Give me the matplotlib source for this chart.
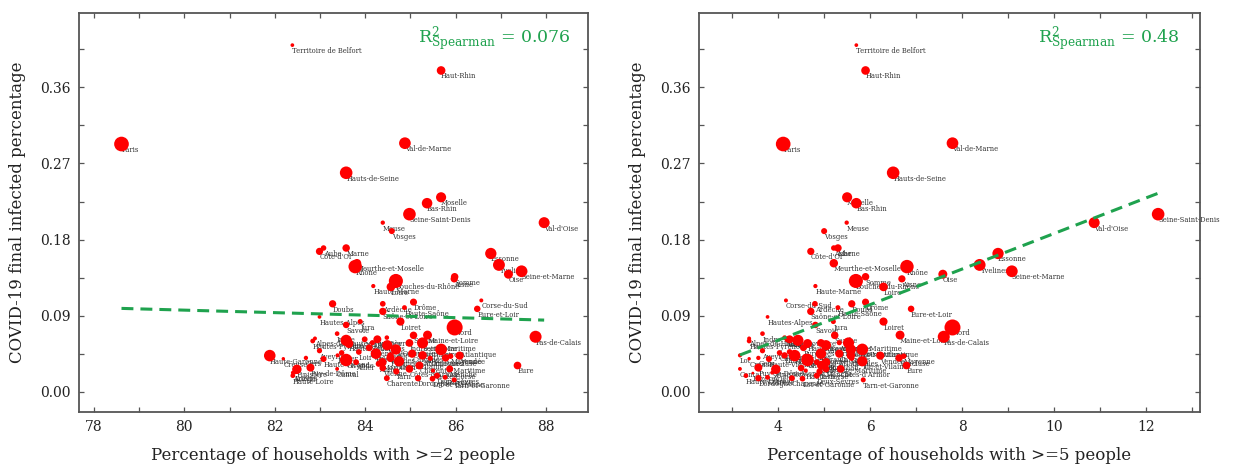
import matplotlib
matplotlib.use('Agg')
import matplotlib.pyplot as plt
import numpy as np
from matplotlib.ticker import MultipleLocator, FormatStrFormatter

# ---------------- data ----------------
departments = [
    "Ain", "Aisne", "Allier", "Alpes-de-Haute-Provence", "Hautes-Alpes", "Alpes-Maritimes",
    "Ardèche", "Ardennes", "Ariège", "Aube", "Aude", "Aveyron", "Bouches-du-Rhône", "Calvados",
    "Cantal", "Charente", "Charente-Maritime", "Cher", "Corrèze", "Corse-du-Sud", "Haute-Corse",
    "Côte-d'Or", "Côtes-d'Armor", "Creuse", "Dordogne", "Doubs", "Drôme", "Eure", "Eure-et-Loir",
    "Finistère", "Gard", "Gers", "Gironde", "Haute-Garonne", "Hérault", "Ille-et-Vilaine", "Indre",
    "Indre-et-Loire", "Isère", "Jura", "Landes", "Loir-et-Cher", "Loire", "Haute-Loire",
    "Loire-Atlantique", "Loiret", "Lot", "Lot-et-Garonne", "Lozère", "Maine-et-Loire", "Manche",
    "Marne", "Haute-Marne", "Mayenne", "Meurthe-et-Moselle", "Meuse", "Morbihan", "Moselle",
    "Nièvre", "Nord", "Oise", "Orne", "Pas-de-Calais", "Puy-de-Dôme", "Pyrénées-Atlantiques",
    "Hautes-Pyrénées", "Pyrénées-Orientales", "Bas-Rhin", "Haut-Rhin", "Rhône", "Haute-Saône",
    "Saône-et-Loire", "Sarthe", "Savoie", "Haute-Savoie", "Paris", "Seine-Maritime",
    "Seine-et-Marne", "Yvelines", "Deux-Sèvres", "Somme", "Tarn", "Tarn-et-Garonne", "Var",
    "Vaucluse", "Vendée", "Vienne", "Haute-Vienne", "Vosges", "Yonne", "Territoire de Belfort",
    "Essonne", "Hauts-de-Seine", "Seine-Saint-Denis", "Val-de-Marne", "Val-d'Oise",
]

pct_2plus = [
    84.27, 85.97, 83.80, 82.89, 82.99, 84.68,
    84.39, 84.16, 82.40, 83.08, 84.30, 82.99, 84.68, 85.04,
    83.38, 84.48, 85.20, 83.48, 85.77, 86.57, 85.50,
    82.99, 84.98, 82.19, 85.17, 83.28, 85.07, 87.37, 86.48,
    82.49, 85.27, 82.69, 83.58, 81.89, 84.24, 84.75, 83.38,
    84.98, 83.58, 83.89, 84.56, 83.86, 84.57, 82.40,
    85.68, 84.78, 83.39, 85.49, 82.44, 85.38, 85.87,
    83.58, 84.18, 85.89, 83.82, 84.39, 84.38, 85.68,
    84.48, 85.98, 87.17, 85.44, 87.77, 82.79, 84.56,
    82.84, 84.09, 85.37, 85.68, 83.78, 84.87,
    84.39, 85.07, 83.58, 83.64, 78.61, 85.27,
    87.46, 86.96, 85.59, 85.98, 84.69, 85.97, 84.49,
    85.78, 86.09, 84.39, 83.08, 84.59, 83.99, 82.39,
    86.78, 83.58, 84.98, 84.88, 87.96,
]

pct_5plus = [
    4.25, 6.69, 4.84, 3.37, 3.77, 5.58,
    4.80, 5.33, 3.87, 5.21, 4.93, 3.66, 5.69, 5.33,
    3.17, 4.30, 4.93, 4.03, 3.77, 4.17, 4.60,
    4.71, 5.36, 3.37, 3.57, 5.60, 5.90, 6.79, 6.89,
    3.95, 5.58, 3.57, 4.64, 4.36, 4.93, 5.83, 3.66,
    4.93, 4.43, 5.20, 4.14, 4.25, 6.29, 3.30,
    5.83, 6.29, 3.17, 4.53, 3.45, 6.65, 5.04,
    5.30, 4.81, 6.73, 5.21, 5.49, 5.04, 5.50,
    4.14, 7.79, 7.58, 5.60, 7.60, 3.57, 4.60,
    3.37, 4.55, 5.70, 5.90, 6.80, 5.30,
    4.71, 5.23, 4.81, 4.64, 4.11, 5.53,
    9.08, 8.38, 4.84, 5.90, 4.90, 5.85, 5.04,
    6.63, 6.22, 4.50, 3.80, 5.00, 4.20, 5.70,
    8.78, 6.50, 12.26, 7.79, 10.87,
]

infected_pct = [
    0.062, 0.1335, 0.035, 0.063, 0.0885, 0.050,
    0.104, 0.058, 0.0225, 0.170, 0.033, 0.0485, 0.131, 0.045,
    0.027, 0.016, 0.031, 0.046, 0.017, 0.108, 0.025,
    0.166, 0.027, 0.039, 0.016, 0.104, 0.106, 0.031, 0.098,
    0.0265, 0.043, 0.040, 0.0375, 0.0427, 0.045, 0.036, 0.0687,
    0.0577, 0.0608, 0.083, 0.043, 0.047, 0.124, 0.019,
    0.050, 0.083, 0.043, 0.0154, 0.022, 0.067, 0.027,
    0.170, 0.125, 0.042, 0.152, 0.200, 0.0348, 0.230,
    0.064, 0.076, 0.139, 0.0395, 0.065, 0.0285, 0.040,
    0.060, 0.052, 0.223, 0.380, 0.148, 0.0995,
    0.095, 0.0667, 0.079, 0.057, 0.293, 0.0577,
    0.1425, 0.150, 0.019, 0.136, 0.024, 0.014, 0.055,
    0.040, 0.0427, 0.028, 0.0387, 0.190, 0.062, 0.410,
    0.1635, 0.259, 0.210, 0.294, 0.200,
]

population_m = [
    0.64, 0.53, 0.34, 0.16, 0.14, 1.08,
    0.33, 0.27, 0.15, 0.31, 0.37, 0.28, 2.02, 0.69,
    0.15, 0.35, 0.64, 0.30, 0.24, 0.16, 0.18,
    0.53, 0.60, 0.12, 0.41, 0.54, 0.51, 0.60, 0.43,
    0.91, 0.74, 0.19, 1.58, 1.36, 1.14, 1.06, 0.22,
    0.61, 1.26, 0.26, 0.41, 0.33, 0.76, 0.23,
    1.39, 0.68, 0.17, 0.33, 0.08, 0.81, 0.50,
    0.57, 0.18, 0.31, 0.73, 0.19, 0.75, 1.04,
    0.21, 2.60, 0.82, 0.28, 1.47, 0.65, 0.68,
    0.23, 0.47, 1.13, 0.76, 1.84, 0.24,
    0.55, 0.57, 0.43, 0.81, 2.19, 1.25,
    1.40, 1.44, 0.37, 0.57, 0.39, 0.26, 1.06,
    0.56, 0.68, 0.44, 0.37, 0.37, 0.34, 0.14,
    1.30, 1.61, 1.62, 1.39, 1.23,
]

x_labels = ["Percentage of households with >=2 people",
            "Percentage of households with >=5 people"]
y_label = "COVID-19 final infected percentage"
r2_values = ["0.076", "0.48"]
fit_slope = [-0.00148, 0.02105]
fit_intercept = [0.2149, -0.0233]

# ---------------- style ----------------
plt.rcParams['font.family'] = ['DejaVu Serif']
plt.rcParams['mathtext.fontset'] = 'dejavuserif'

GREEN = '#1fa24e'
SPINE = '#555555'

fig = plt.figure(figsize=(12.34, 4.67), dpi=100)
ax1 = fig.add_axes([79 / 1234, 1 - 412 / 467, 509 / 1234, 399 / 467])
ax2 = fig.add_axes([699 / 1234, 1 - 412 / 467, 501 / 1234, 399 / 467])

y = np.array(infected_pct)
sizes = np.array(population_m) * 51.0

panels = [
    (ax1, np.array(pct_2plus), (77.67, 88.93), 2, 1),
    (ax2, np.array(pct_5plus), (2.28, 13.17), 2, 1),
]

for i, (ax, x, xlim, maj, mnr) in enumerate(panels):
    ax.scatter(x, y, s=sizes, color='#ff0000', edgecolors='none', zorder=2)
    for name, xi, yi in zip(departments, x, y):
        ax.annotate(name, (xi, yi), xytext=(0, -4.3), textcoords='offset points',
                    ha='left', va='center', fontsize=4.9, color='#333333',
                    zorder=1.5, annotation_clip=False)
    xs = np.array([x.min(), x.max()])
    ax.plot(xs, fit_slope[i] * xs + fit_intercept[i], color=GREEN, lw=2.2,
            dashes=(3.9, 2.3), zorder=3)
    ax.text(0.666 if i == 0 else 0.677, 0.935,
            r"R$^{2}_{\mathrm{Spearman}}$ = " + r2_values[i],
            transform=ax.transAxes, color=GREEN, fontsize=12.5,
            ha='left', va='center')
    ax.set_xlim(*xlim)
    ax.set_ylim(-0.024, 0.448)
    ax.xaxis.set_major_locator(MultipleLocator(maj))
    ax.xaxis.set_minor_locator(MultipleLocator(mnr))
    ax.yaxis.set_major_locator(MultipleLocator(0.09))
    ax.yaxis.set_minor_locator(MultipleLocator(0.045))
    ax.yaxis.set_major_formatter(FormatStrFormatter('%.2f'))
    ax.tick_params(which='both', direction='in', top=True, right=True,
                   length=3.5, width=0.9, color=SPINE)
    ax.tick_params(which='major', labelsize=10, pad=6, labelcolor='#222222')
    for sp in ax.spines.values():
        sp.set_color(SPINE)
        sp.set_linewidth(1.3)
    ax.set_xlabel(x_labels[i], fontsize=12, color='#222222', labelpad=9)
    ax.set_ylabel(y_label, fontsize=12, color='#222222', labelpad=10)

fig.savefig('out.png', dpi=100)
